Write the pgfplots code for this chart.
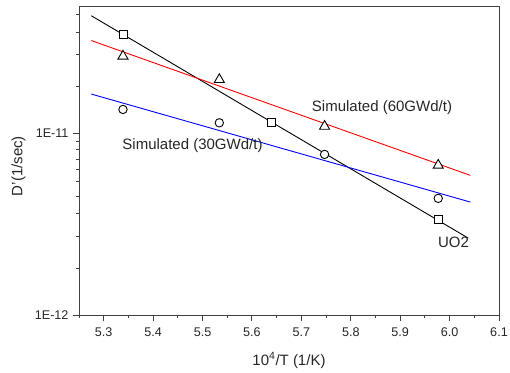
\documentclass[border=0pt]{standalone}
\usepackage{fontspec}
\setmainfont{Liberation Sans}
\usepackage{pgfplots}
\pgfplotsset{compat=1.18}
\begin{document}
\begin{tikzpicture}
\useasboundingbox (-79pt,-57pt) rectangle (431pt,315pt);
\begin{axis}[
  scale only axis,
  width=420pt, height=309pt,
  anchor=south west, at={(0pt,0pt)},
  ymode=log,
  xmin=5.25, xmax=6.1,
  ymin=1e-12, ymax=5e-11,
  axis line style={draw=black!75, line width=0.9pt},
  xtick={5.3,5.4,5.5,5.6,5.7,5.8,5.9,6.0,6.1},
  xticklabels={5.3,5.4,5.5,5.6,5.7,5.8,5.9,6.0,6.1},
  minor xtick={5.25,5.35,5.45,5.55,5.65,5.75,5.85,5.95,6.05},
  ytick={1e-12,1e-11},
  yticklabels={1E-12,1E-11},
  minor ytick={1.8e-12,2.7e-12,3.6e-12,4.5e-12,5.4e-12,6.3e-12,7.2e-12,8.1e-12,9e-12,1.8e-11,2.7e-11,3.6e-11,4.5e-11},
  tick align=outside,
  xtick pos=bottom, ytick pos=left,
  major tick length=6pt, minor tick length=3pt,
  tick style={draw=black!75, line width=0.9pt},
  ticklabel style={font=\fontsize{12.6}{15}\selectfont, text=black!85},
  xticklabel style={yshift=-3pt},
  yticklabel style={xshift=-1pt},
  xlabel={10\textsuperscript{4}/T (1/K)},
  ylabel={D'(1/sec)},
  label style={font=\fontsize{15}{18}\selectfont, text=black!85},
  xlabel style={at={(axis description cs:0.5,-0.147)}, anchor=center},
  ylabel style={at={(axis description cs:-0.144,0.482)}, anchor=center},
  clip=false,
]
% fitted lines
\addplot[black, line width=0.9pt, no marks] coordinates {(5.275,4.42e-11) (6.0375,2.65e-12)};
\addplot[red, line width=0.9pt, no marks] coordinates {(5.275,3.23e-11) (6.042,5.86e-12)};
\addplot[blue, line width=0.9pt, no marks] coordinates {(5.275,1.64e-11) (6.042,4.18e-12)};
% UO2 squares
\addplot[only marks, mark=square*, mark size=4pt, mark options={draw=black, fill=white, line width=0.9pt}]
  coordinates {(5.339,3.48e-11) (5.640,1.145e-11) (5.977,3.36e-12)};
% 60GWd/t triangles
\addplot[only marks, mark=triangle*, mark size=5.8pt, mark options={draw=black, fill=white, line width=0.9pt}]
  coordinates {(5.339,2.65e-11) (5.534,1.97e-11) (5.747,1.09e-11) (5.977,6.66e-12)};
% 30GWd/t circles
\addplot[only marks, mark=*, mark size=4.2pt, mark options={draw=black, fill=white, line width=0.9pt}]
  coordinates {(5.339,1.35e-11) (5.534,1.14e-11) (5.747,7.64e-12) (5.977,4.38e-12)};
\node[font=\fontsize{15}{18}\selectfont, text=black!85] at (axis cs:5.8632,1.389e-11) {Simulated (60GWd/t)};
\node[font=\fontsize{15}{18}\selectfont, text=black!85] at (axis cs:5.4797,8.56e-12) {Simulated (30GWd/t)};
\node[font=\fontsize{15}{18}\selectfont, text=black!85] at (axis cs:6.0079,2.515e-12) {UO2};
\end{axis}
\end{tikzpicture}
\end{document}
